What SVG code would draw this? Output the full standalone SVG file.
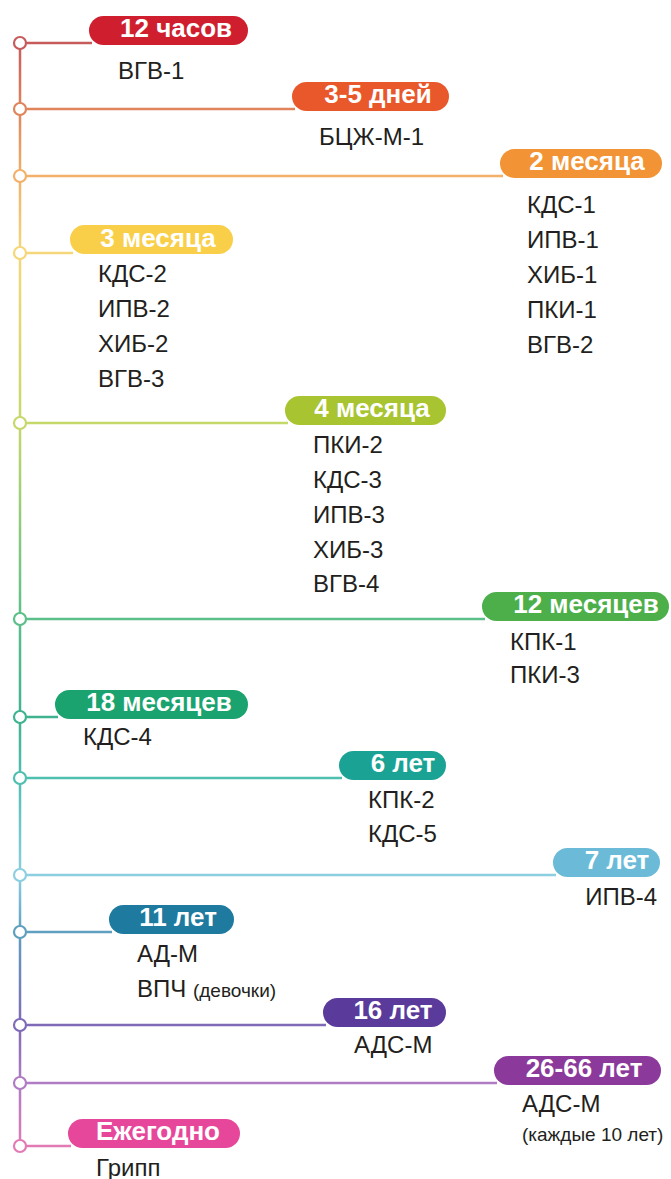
<svg xmlns="http://www.w3.org/2000/svg" width="671" height="1179" viewBox="0 0 671 1179">
<defs>
<linearGradient id="vg" gradientUnits="userSpaceOnUse" x1="0" y1="43" x2="0" y2="1146">
<stop offset="0" stop-color="#c75b5b"/>
<stop offset="0.0598" stop-color="#e0845c"/>
<stop offset="0.1206" stop-color="#f2b06a"/>
<stop offset="0.1904" stop-color="#f5d77a"/>
<stop offset="0.3445" stop-color="#c5d86a"/>
<stop offset="0.5222" stop-color="#5bbf8a"/>
<stop offset="0.6111" stop-color="#3fb28f"/>
<stop offset="0.6664" stop-color="#4fbfb0"/>
<stop offset="0.7543" stop-color="#8ccfe0"/>
<stop offset="0.8060" stop-color="#5f9fbf"/>
<stop offset="0.8903" stop-color="#7f6ab8"/>
<stop offset="0.9429" stop-color="#b07cc4"/>
<stop offset="1" stop-color="#e27ab5"/>
</linearGradient>
</defs>
<style>
.conn{stroke-width:2.5;fill:none}
.dot{fill:#fff;stroke-width:2.2}
.pt{font-family:"Liberation Sans",Arial,sans-serif;font-weight:bold;font-size:26px;fill:#fff;text-anchor:middle}
.it{font-family:"Liberation Sans",Arial,sans-serif;font-size:24px;fill:#231f20}
.sm{font-family:"Liberation Sans",Arial,sans-serif;font-size:19px;fill:#231f20}
</style>
<rect width="671" height="1179" fill="#fff"/>
<g id="connectors">
<line x1="20" y1="43" x2="20" y2="1146" stroke="url(#vg)" stroke-width="2.5"/>
<line class="conn" x1="20" y1="43" x2="92" y2="43" stroke="#c75b5b"/>
<line class="conn" x1="20" y1="109" x2="295" y2="109" stroke="#e0845c"/>
<line class="conn" x1="20" y1="176" x2="503" y2="176" stroke="#f2b06a"/>
<line class="conn" x1="20" y1="253" x2="73" y2="253" stroke="#f5d77a"/>
<line class="conn" x1="20" y1="423" x2="288" y2="423" stroke="#c5d86a"/>
<line class="conn" x1="20" y1="619" x2="485" y2="619" stroke="#5bbf8a"/>
<line class="conn" x1="20" y1="717" x2="58" y2="717" stroke="#3fb28f"/>
<line class="conn" x1="20" y1="778" x2="342" y2="778" stroke="#4fbfb0"/>
<line class="conn" x1="20" y1="875" x2="556" y2="875" stroke="#8ccfe0"/>
<line class="conn" x1="20" y1="932" x2="112" y2="932" stroke="#5f9fbf"/>
<line class="conn" x1="20" y1="1025" x2="326" y2="1025" stroke="#7f6ab8"/>
<line class="conn" x1="20" y1="1083" x2="497" y2="1083" stroke="#b07cc4"/>
<line class="conn" x1="20" y1="1146" x2="71" y2="1146" stroke="#e27ab5"/>
</g>
<g id="n1">
<circle class="dot" cx="20" cy="43" r="6" stroke="#c75b5b"/>
<rect x="89" y="16" width="159" height="29" rx="14.5" fill="#cf1f2e"/>
<text class="pt" x="176" y="37">12 часов</text>
<text class="it" x="118" y="79">ВГВ-1</text>
</g>
<g id="n2">
<circle class="dot" cx="20" cy="109" r="6" stroke="#e0845c"/>
<rect x="292" y="82" width="157" height="29" rx="14.5" fill="#e8582b"/>
<text class="pt" x="378" y="103">3-5 дней</text>
<text class="it" x="319" y="145">БЦЖ-М-1</text>
</g>
<g id="n3">
<circle class="dot" cx="20" cy="176" r="6" stroke="#f2b06a"/>
<rect x="500" y="149" width="162" height="29" rx="14.5" fill="#f29435"/>
<text class="pt" x="587" y="170">2 месяца</text>
<text class="it" x="527" y="213">КДС-1</text>
<text class="it" x="527" y="248">ИПВ-1</text>
<text class="it" x="527" y="283">ХИБ-1</text>
<text class="it" x="527" y="318">ПКИ-1</text>
<text class="it" x="527" y="353">ВГВ-2</text>
</g>
<g id="n4">
<circle class="dot" cx="20" cy="253" r="6" stroke="#f5d77a"/>
<rect x="70" y="225" width="163" height="29" rx="14.5" fill="#f9cf4a"/>
<text class="pt" x="158" y="247">3 месяца</text>
<text class="it" x="98" y="282">КДС-2</text>
<text class="it" x="98" y="317">ИПВ-2</text>
<text class="it" x="98" y="352">ХИБ-2</text>
<text class="it" x="98" y="387">ВГВ-3</text>
</g>
<g id="n5">
<circle class="dot" cx="20" cy="423" r="6" stroke="#c5d86a"/>
<rect x="285" y="396" width="161" height="29" rx="14.5" fill="#a8c431"/>
<text class="pt" x="372" y="417">4 месяца</text>
<text class="it" x="313" y="453">ПКИ-2</text>
<text class="it" x="313" y="488">КДС-3</text>
<text class="it" x="313" y="523">ИПВ-3</text>
<text class="it" x="313" y="558">ХИБ-3</text>
<text class="it" x="313" y="592">ВГВ-4</text>
</g>
<g id="n6">
<circle class="dot" cx="20" cy="619" r="6" stroke="#5bbf8a"/>
<rect x="482" y="592" width="187" height="29" rx="14.5" fill="#4caf4a"/>
<text class="pt" x="586" y="613">12 месяцев</text>
<text class="it" x="510" y="650">КПК-1</text>
<text class="it" x="510" y="683">ПКИ-3</text>
</g>
<g id="n7">
<circle class="dot" cx="20" cy="717" r="6" stroke="#3fb28f"/>
<rect x="55" y="690" width="193" height="29" rx="14.5" fill="#1aa36f"/>
<text class="pt" x="159" y="711">18 месяцев</text>
<text class="it" x="83" y="745">КДС-4</text>
</g>
<g id="n8">
<circle class="dot" cx="20" cy="778" r="6" stroke="#4fbfb0"/>
<rect x="339" y="751" width="107" height="29" rx="14.5" fill="#1aa394"/>
<text class="pt" x="403" y="772">6 лет</text>
<text class="it" x="368" y="808">КПК-2</text>
<text class="it" x="368" y="842">КДС-5</text>
</g>
<g id="n9">
<circle class="dot" cx="20" cy="875" r="6" stroke="#8ccfe0"/>
<rect x="553" y="848" width="107" height="29" rx="14.5" fill="#6bbbd8"/>
<text class="pt" x="617" y="869">7 лет</text>
<text class="it" x="657" y="905" text-anchor="end">ИПВ-4</text>
</g>
<g id="n10">
<circle class="dot" cx="20" cy="932" r="6" stroke="#5f9fbf"/>
<rect x="109" y="905" width="125" height="29" rx="14.5" fill="#1f7aa0"/>
<text class="pt" x="178" y="926">11 лет</text>
<text class="it" x="137" y="962">АД-М</text>
<text class="it" x="137" y="997">ВПЧ <tspan class="sm">(девочки)</tspan></text>
</g>
<g id="n11">
<circle class="dot" cx="20" cy="1025" r="6" stroke="#7f6ab8"/>
<rect x="323" y="998" width="123" height="29" rx="14.5" fill="#5a3a9a"/>
<text class="pt" x="393" y="1019">16 лет</text>
<text class="it" x="354" y="1053">АДС-М</text>
</g>
<g id="n12">
<circle class="dot" cx="20" cy="1083" r="6" stroke="#b07cc4"/>
<rect x="494" y="1056" width="167" height="29" rx="14.5" fill="#8b3a9b"/>
<text class="pt" x="584" y="1077">26-66 лет</text>
<text class="it" x="522" y="1112">АДС-М</text>
<text class="sm" x="522" y="1141">(каждые 10 лет)</text>
</g>
<g id="n13">
<circle class="dot" cx="20" cy="1146" r="6" stroke="#e27ab5"/>
<rect x="68" y="1119" width="172" height="29" rx="14.5" fill="#e6479a"/>
<text class="pt" x="158" y="1140">Ежегодно</text>
<text class="it" x="96" y="1176">Грипп</text>
</g>
</svg>
